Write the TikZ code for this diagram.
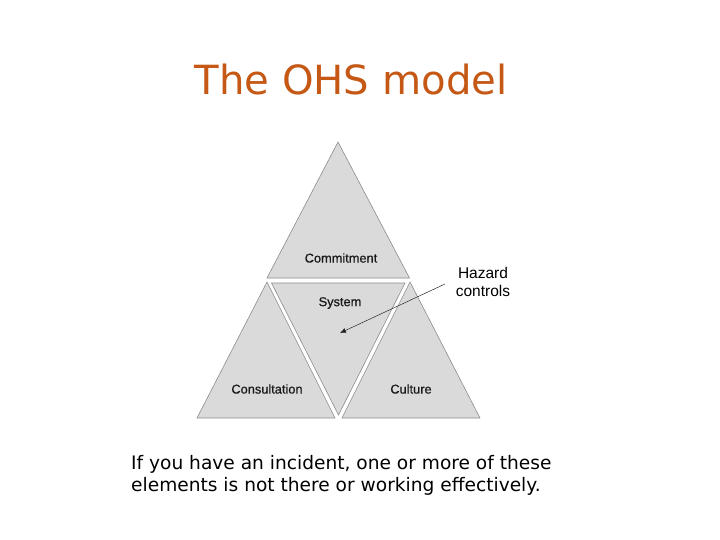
\documentclass[tikz,border=0pt]{standalone}
\usepackage{fontspec}
\setmainfont{DejaVu Sans}
\newfontfamily\arialfont[FakeBold=0.6]{Liberation Sans}
\newfontfamily\hazardfont{Liberation Sans}
\usetikzlibrary{arrows.meta}
\definecolor{titleorange}{RGB}{197,88,20}
\definecolor{trifill}{RGB}{218,218,218}
\definecolor{triedge}{RGB}{140,140,140}
\definecolor{labelgray}{RGB}{25,25,25}
\tikzset{
  tri/.style={fill=trifill, draw=triedge, line width=0.6pt, line join=miter},
  lbl/.style={font=\arialfont\fontsize{12.8}{14}\selectfont, text=labelgray, inner sep=0pt},
  hz/.style={font=\hazardfont\fontsize{15.5}{18}\selectfont, align=center, inner sep=0pt},
  pointer/.style={draw=black!85, line width=0.5pt, -{Latex[length=6pt,width=5pt]}}
}
\begin{document}
\begin{tikzpicture}[x=1pt,y=-1pt]
\useasboundingbox (0,0) rectangle (720,540);
% title
\node[font=\fontsize{40.2}{46}\selectfont, text=titleorange, inner sep=0pt] (title) at (351,80) {The OHS model};
% triangles
\path[tri] (338,142) -- (409.5,278) -- (267,278) -- cycle;
\path[tri] (271.5,283) -- (405,283) -- (338.5,415) -- cycle;
\path[tri] (267,282) -- (335,418) -- (197,418) -- cycle;
\path[tri] (410,282) -- (480,418) -- (342,418) -- cycle;
% labels
\node[lbl] (commit) at (341,258) {Commitment};
\node[lbl] (system) at (340,303) {System};
\node[lbl] (consult) at (267,389) {Consultation};
\node[lbl] (culture) at (411,389) {Culture};
\node[hz] (hazard) at (483,282) {Hazard\\controls};
% arrow
\coordinate (hs) at (445,284);
\coordinate (ht) at (340,333);
\draw[pointer] (hs) -- (ht);
% bottom text
\node[anchor=base west, font=\fontsize{18.6}{22}\selectfont, align=left, inner sep=0pt] (note) at (131,491)
  {If you have an incident, one or more of these\\elements is not there or working effectively.};
\end{tikzpicture}
\end{document}
